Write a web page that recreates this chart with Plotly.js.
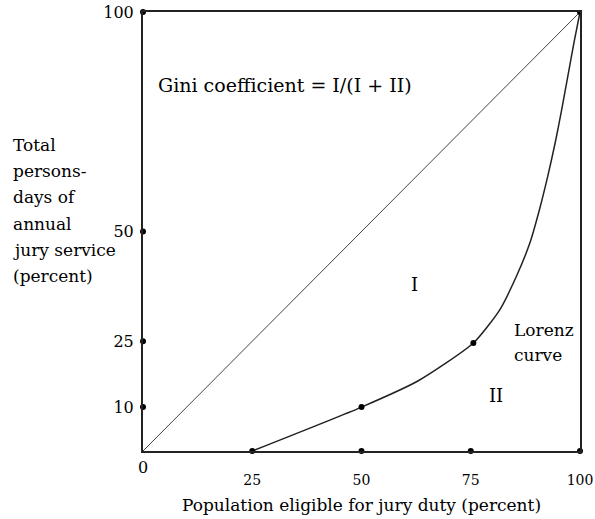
<!DOCTYPE html>
<html>
<head>
<meta charset="utf-8">
<script src="https://cdn.plot.ly/plotly-3.0.1.min.js"></script>
<style>html,body{margin:0;padding:0;background:#fff;}</style>
</head>
<body>
<div id="chart" style="width:595px;height:519px;"></div>
<script>
// Equality line
const equalityX = [0, 100];
const equalityY = [0, 100];
// Lorenz curve
const lorenzX = [25, 50, 63, 75.6, 81.6, 85.4, 88.5, 90.7, 92.6, 94.3, 95.8, 97.2, 98.6, 100];
const lorenzY = [0, 10, 16, 24.6, 32.1, 39.7, 47.3, 54.9, 62.5, 70.1, 77.7, 85.3, 92.9, 100];
// Marked points on the curve
const curveDotX = [50, 75.6, 100];
const curveDotY = [10, 24.6, 100];
// Axis tick values
const xTicks = [25, 50, 75, 100];
const xTickText = ["25", "50", "75", "100"];
const yTicks = [10, 25, 50, 100];
const yTickText = ["10", "25", "50", "100"];
// Text
const yTitleLines = ["Total", "persons-", "days of", "annual", "jury service", "(percent)"];
const xTitle = "Population eligible for jury duty (percent)";
const giniText = "Gini coefficient = I/(I + II)";

const FONT = "DejaVu Serif";
const L = 143, R = 580, T = 12, B = 451;

const traces = [
  {x: equalityX, y: equalityY, mode: "lines", line: {color: "#444", width: 1}, hoverinfo: "skip"},
  {x: lorenzX, y: lorenzY, mode: "lines", line: {color: "#222", width: 1.5, shape: "spline", smoothing: 0.6}, hoverinfo: "skip"},
  {x: curveDotX, y: curveDotY, mode: "markers", marker: {color: "#000", size: 6}, hoverinfo: "skip"},
  {x: xTicks, y: xTicks.map(() => 0), mode: "markers", marker: {color: "#000", size: 6}, cliponaxis: false, hoverinfo: "skip"},
  {x: yTicks.map(() => 0), y: yTicks, mode: "markers", marker: {color: "#000", size: 6}, cliponaxis: false, hoverinfo: "skip"}
];

function txt(s) { return {family: FONT, size: s || 17, color: "#000"}; }
// pixel-positioned annotations (converted to paper coords below)
const annotations = [
  {px: 285, py: 85, text: giniText, xanchor: "center", size: 19},
  {px: 414, py: 284, text: "I", xanchor: "center", size: 18},
  {px: 496, py: 395, text: "II", xanchor: "center", size: 18},
  {px: 512, py: 330, text: "Lorenz", xanchor: "left"},
  {px: 512, py: 355, text: "curve", xanchor: "left"},
  {px: 143, py: 467, text: "0", xanchor: "center", size: 16}
];
const lineYs = [145, 171, 197, 224, 250, 276];
yTitleLines.forEach((t, i) => annotations.push({px: 11, py: lineYs[i], text: t, xanchor: "left"}));
annotations.forEach(a => {
  a.x = (a.px - L) / (R - L);
  a.y = (B - a.py) / (B - T);
  a.xref = "paper"; a.yref = "paper";
  a.yanchor = "middle"; a.showarrow = false; a.font = txt(a.size);
  delete a.px; delete a.py; delete a.size;
});

const layout = {
  width: 595, height: 519,
  margin: {l: L, r: 595 - R, t: T, b: 519 - B},
  paper_bgcolor: "#fff", plot_bgcolor: "#fff",
  showlegend: false,
  font: txt(),
  xaxis: {
    range: [0, 100], showgrid: false, zeroline: false,
    showline: true, mirror: true, linecolor: "#222", linewidth: 2,
    tickmode: "array", tickvals: xTicks, ticktext: xTickText, ticks: "", ticklabelstandoff: 15,
    ticklabeloverflow: "allow",
    tickfont: txt(14),
    title: {text: xTitle, font: txt(), standoff: 12}
  },
  yaxis: {
    range: [0, 100], showgrid: false, zeroline: false,
    showline: true, mirror: true, linecolor: "#222", linewidth: 2,
    tickmode: "array", tickvals: yTicks, ticktext: yTickText, ticks: "", ticklabelstandoff: 4,
    tickfont: txt(16)
  },
  annotations: annotations
};

Plotly.newPlot("chart", traces, layout, {displayModeBar: false, staticPlot: true});
</script>
</body>
</html>
